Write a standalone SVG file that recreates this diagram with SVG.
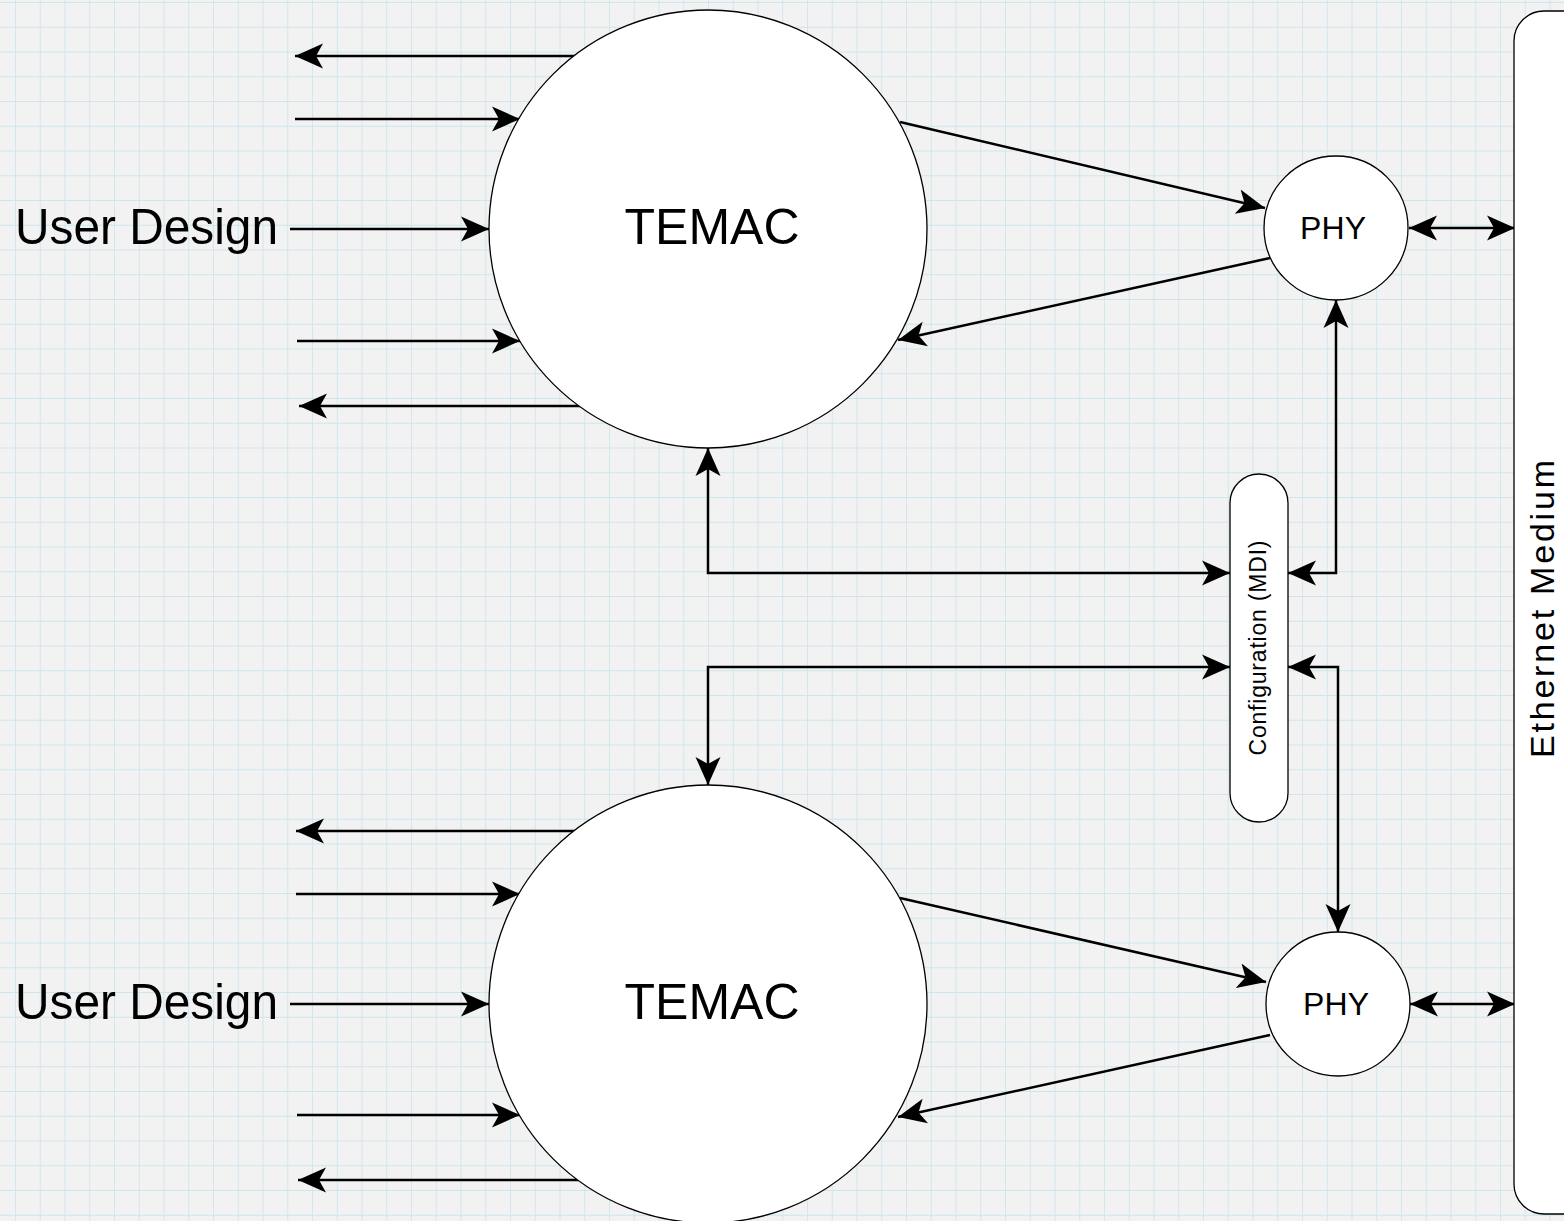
<svg xmlns="http://www.w3.org/2000/svg" width="1564" height="1221" viewBox="0 0 1564 1221">
<style>
.node{fill:#fff;stroke:#000;stroke-width:1.3}
.lbl{font-family:"Liberation Sans",Arial,sans-serif;fill:#000}
.conn path{fill:none;stroke:#000;stroke-width:2.5}
.one{marker-end:url(#ah)}
.two{marker-start:url(#ah);marker-end:url(#ah)}
</style>
<defs>
<pattern id="grid" x="15" y="2" width="24.75" height="24.75" patternUnits="userSpaceOnUse">
<path d="M0,0 V24.75 M0,0 H24.75" fill="none" stroke="#cfe5ee" stroke-width="1.8"/>
</pattern>
<marker id="ah" viewBox="-28 -13 29 26" refX="0" refY="0" markerWidth="29" markerHeight="26" markerUnits="userSpaceOnUse" orient="auto-start-reverse">
<path d="M0,0 L-28,-12.5 L-21,0 L-28,12.5 Z" fill="#000"/>
</marker>
</defs>
<rect width="1564" height="1221" fill="#f2f2f2"/>
<rect width="1564" height="1221" fill="url(#grid)"/>

<g class="conn">
<path class="one" d="M577,56 H295"/>
<path class="one" d="M295,119 H520"/>
<path class="one" d="M290,229 H489"/>
<path class="one" d="M297,341 H520"/>
<path class="one" d="M580,406 H299"/>
<path class="one" d="M577,831 H296"/>
<path class="one" d="M296,894 H520"/>
<path class="one" d="M290,1004 H489"/>
<path class="one" d="M297,1115 H520"/>
<path class="one" d="M578,1180 H298"/>
<path class="one" d="M900,122 L1265,208"/>
<path class="one" d="M1270,258 L898,340"/>
<path class="one" d="M900,898 L1266,982"/>
<path class="one" d="M1270,1035 L898,1117"/>
<path class="two" d="M1409,228 H1515"/>
<path class="two" d="M1410,1004 H1515"/>
<path class="two" d="M708,448 V573 H1230"/>
<path class="two" d="M1336,300 V573 H1288"/>
<path class="two" d="M1230,667 H708 V785"/>
<path class="two" d="M1288,667 H1338 V932"/>
</g>

<g id="temac1">
<circle class="node" cx="708" cy="229" r="219"/>
<text class="lbl" x="712" y="244" font-size="50" text-anchor="middle">TEMAC</text>
</g>
<g id="temac2">
<circle class="node" cx="708" cy="1004" r="219"/>
<text class="lbl" x="712" y="1019" font-size="50" text-anchor="middle">TEMAC</text>
</g>
<g id="phy1">
<circle class="node" cx="1336" cy="228" r="72"/>
<text class="lbl" x="1333" y="239" font-size="32" text-anchor="middle" textLength="66" lengthAdjust="spacing">PHY</text>
</g>
<g id="phy2">
<circle class="node" cx="1338" cy="1004" r="72"/>
<text class="lbl" x="1336" y="1015" font-size="32" text-anchor="middle" textLength="66" lengthAdjust="spacing">PHY</text>
</g>
<g id="config">
<rect class="node" x="1230" y="474" width="58" height="348" rx="29" ry="29"/>
<text class="lbl" transform="translate(1266,648) rotate(-90)" font-size="23" text-anchor="middle" textLength="215" lengthAdjust="spacing">Configuration (MDI)</text>
</g>
<g id="ethernet">
<rect class="node" x="1514" y="11" width="100" height="1203" rx="30" ry="30"/>
<text class="lbl" transform="translate(1554,609) rotate(-90)" font-size="34" text-anchor="middle" textLength="298" lengthAdjust="spacing">Ethernet Medium</text>
</g>
<g id="user1">
<text class="lbl" x="15" y="244" font-size="50" textLength="263" lengthAdjust="spacingAndGlyphs">User Design</text>
</g>
<g id="user2">
<text class="lbl" x="15" y="1019" font-size="50" textLength="263" lengthAdjust="spacingAndGlyphs">User Design</text>
</g>
</svg>
